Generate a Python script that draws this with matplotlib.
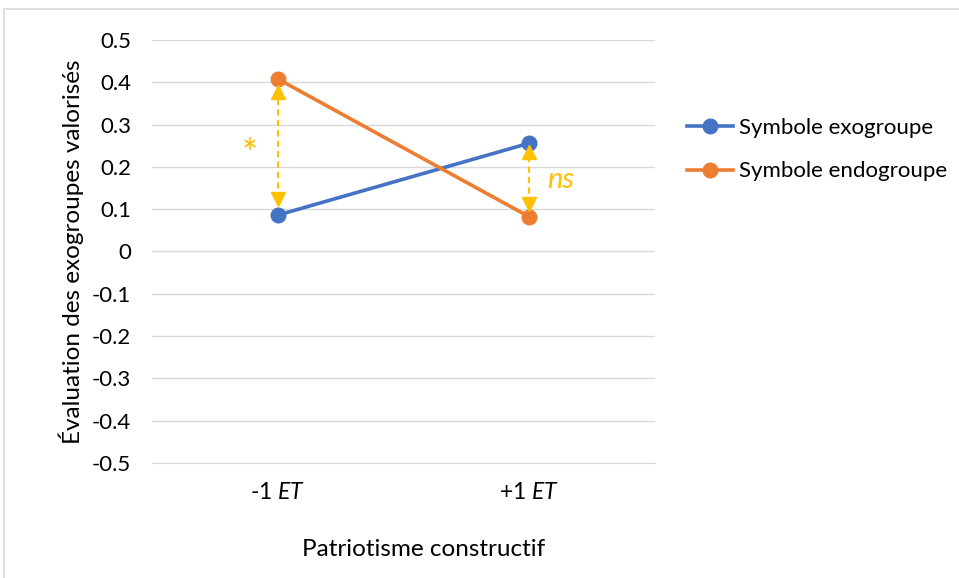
import matplotlib.pyplot as plt
import matplotlib.patches as patches

plt.rcParams['font.family'] = ['Lato', 'DejaVu Sans']
plt.rcParams['mathtext.fontset'] = 'custom'
plt.rcParams['mathtext.rm'] = 'Lato'
plt.rcParams['mathtext.it'] = 'Lato:italic'

categories = ['-1 $\\it{ET}$', '+1 $\\it{ET}$']
exo = [0.086, 0.256]
endo = [0.408, 0.082]
series_names = ['Symbole exogroupe', 'Symbole endogroupe']
y_ticks = [0.5, 0.4, 0.3, 0.2, 0.1, 0, -0.1, -0.2, -0.3, -0.4, -0.5]
# arrow heads (centre of up / down triangles) at each category
arrow_up = [0.376, 0.236]
arrow_down = [0.123, 0.113]
sig_labels = ['*', 'ns']
sig_y = [0.225, 0.17]

blue = '#4472C4'
orange = '#ED7D31'
gold = '#FFC000'
grid = '#D9D9D9'


def main():
	fig = plt.figure(figsize=(9.59, 5.78), dpi=100)
	ax = fig.add_axes([0.1585, 0.199, 0.5245, 0.7318])

	x = [0, 1]
	ax.plot(x, exo, color=blue, lw=2.6, marker='o', ms=10.5, label=series_names[0], zorder=3)
	ax.plot(x, endo, color=orange, lw=2.6, marker='o', ms=10.5, label=series_names[1], zorder=3)

	for i in range(2):
		ax.plot([x[i], x[i]], [arrow_down[i], arrow_up[i]], color=gold, lw=1.5, ls=(0, (3, 2)), zorder=4)
		ax.plot(x[i], arrow_up[i], marker='^', color=gold, ms=10.5, zorder=5)
		ax.plot(x[i], arrow_down[i], marker='v', color=gold, ms=10.5, zorder=5)

	ax.text(x[0] - 0.11, sig_y[0], sig_labels[0], color=gold, fontsize=27, ha='center', va='center')
	ax.text(x[1] + 0.125, sig_y[1], sig_labels[1], color=gold, fontsize=21, style='italic', ha='center', va='center')

	ax.set_xlim(-0.5, 1.5)
	ax.set_ylim(-0.5, 0.5)
	ax.set_xticks(x)
	ax.set_xticklabels(categories, fontsize=16.5)
	ax.set_yticks(y_ticks)
	ax.set_yticklabels([str(v) for v in y_ticks], fontsize=16)
	ax.tick_params(axis='y', length=0, pad=15)
	ax.tick_params(axis='x', length=0, pad=14)
	ax.grid(axis='y', color=grid, lw=1)
	ax.set_axisbelow(True)
	for s in ['top', 'right', 'left']:
		ax.spines[s].set_visible(False)
	ax.spines['bottom'].set_color(grid)

	ax.set_ylabel('Évaluation des exogroupes valorisés', fontsize=17.5, labelpad=6)
	fig.text(0.442, 0.05, 'Patriotisme constructif', fontsize=17.5, ha='center', va='center')

	fig.legend(loc='center left', bbox_to_anchor=(0.695, 0.741), frameon=False, fontsize=16,
			   handlelength=2.1, labelspacing=1.05, handletextpad=0.25)

	fig.patches.append(patches.Rectangle((4 / 959, -0.1), 2, 1 - 9 / 578 + 0.1, transform=fig.transFigure,
										 fill=False, edgecolor=grid, lw=1.2))

	fig.savefig('out.png', dpi=100)


if __name__ == '__main__':
	main()
